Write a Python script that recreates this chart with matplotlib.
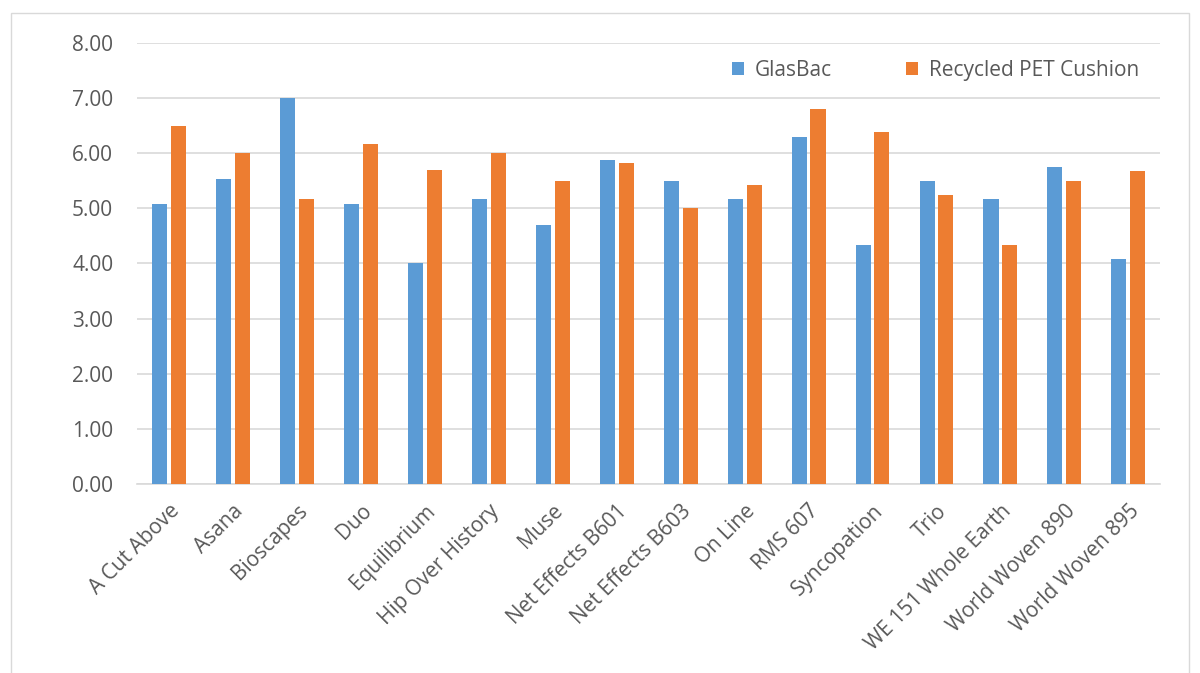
import matplotlib.pyplot as plt
import numpy as np

categories = ["A Cut Above", "Asana", "Bioscapes", "Duo", "Equilibrium", "Hip Over History",
              "Muse", "Net Effects B601", "Net Effects B603", "On Line", "RMS 607",
              "Syncopation", "Trio", "WE 151 Whole Earth", "World Woven 890", "World Woven 895"]
glasbac = [5.08, 5.53, 7.00, 5.08, 4.00, 5.17, 4.70, 5.88, 5.50, 5.17, 6.30, 4.33, 5.50, 5.17, 5.75, 4.08]
recycled = [6.50, 6.00, 5.17, 6.17, 5.70, 6.00, 5.50, 5.83, 5.00, 5.42, 6.80, 6.38, 5.25, 4.33, 5.50, 5.67]

plt.rcParams['font.family'] = ['Open Sans', 'DejaVu Sans']
text_color = '#595959'

fig = plt.figure(figsize=(12, 6.73), dpi=100)
# outer chart border
fig.patches.append(plt.Rectangle((0.009, -0.01), 0.982, 0.99, transform=fig.transFigure,
                                 fill=False, edgecolor='#d9d9d9', lw=1))
ax = fig.add_axes([0.114, 0.281, 0.853, 0.655])

x = np.arange(len(categories))
w = 0.235
ax.bar(x - 0.148, glasbac, w, color='#5b9bd5', label='GlasBac', zorder=3)
ax.bar(x + 0.148, recycled, w, color='#ed7d31', label='Recycled PET Cushion', zorder=3)

ax.set_xlim(-0.5, len(categories) - 0.5)
ax.set_ylim(0, 8)
ax.set_yticks(np.arange(0, 9, 1))
ax.set_yticklabels([f"{v:.2f}" for v in np.arange(0, 9, 1)])
ax.yaxis.grid(True, color='#d9d9d9', lw=1.2, zorder=0)
ax.set_xticks(x)
ax.set_xticklabels(categories, rotation=45, ha='right', rotation_mode='anchor')
ax.tick_params(axis='both', length=0, labelsize=15, colors=text_color)
ax.tick_params(axis='y', pad=17)
ax.tick_params(axis='x', pad=12)
for s in ['top', 'right', 'left']:
    ax.spines[s].set_visible(False)
ax.spines['bottom'].set_color('#d9d9d9')
ax.spines['bottom'].set_linewidth(1.2)

leg = ax.legend(loc='upper left', bbox_to_anchor=(0.563, 1.005), ncol=2, frameon=False,
                fontsize=15, handlelength=0.6, handleheight=0.6, columnspacing=3.55,
                handletextpad=0.5)
for t in leg.get_texts():
    t.set_color(text_color)

fig.savefig('out.png', dpi=100)
